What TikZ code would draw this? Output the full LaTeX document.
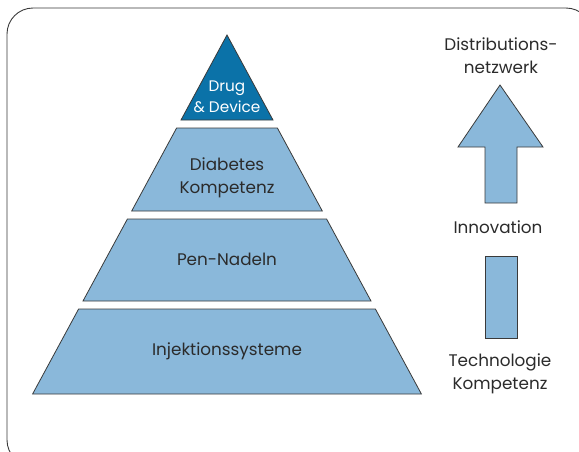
\documentclass[tikz,border=0pt]{standalone}
\usepackage{fontspec}
\setmainfont{Poppins}
\usepackage{tikz}
\definecolor{layerblue}{HTML}{8AB8DA}
\definecolor{topblue}{HTML}{0B72A8}
\definecolor{edgegray}{HTML}{3A3A3A}
\definecolor{textgray}{HTML}{2B2B2B}

\begin{document}
\begin{tikzpicture} [x=1pt,y=-1pt,
  layer/.style={fill=layerblue,draw=edgegray,line width=0.8pt},
  lbl/.style={font=\fontsize{16.8}{23}\selectfont,text=textgray,align=center,inner sep=0pt}]
\useasboundingbox (0,0) rectangle (579,451);
% frame
\draw [edgegray,line width=0.9pt,rounded corners=26pt] (7,8) rectangle (592,466);
% pyramid
\draw [fill=topblue,draw=edgegray,line width=0.8pt] (227,35) -- (273,120) -- (181,120) -- cycle;
\draw [layer] (176.6,128) -- (277.4,128) -- (322.3,211) -- (131.7,211) -- cycle;
\draw [layer] (127.4,219) -- (326.6,219) -- (371,301) -- (83,301) -- cycle;
\draw [layer] (78.6,309) -- (375.4,309) -- (421.4,394) -- (32.6,394) -- cycle;
\node [lbl,text=white,font=\fontsize{15.3}{21}\selectfont] (drug) at (227,97) {Drug\\\& Device};
\node [lbl] (diab) at (227,178) {Diabetes\\Kompetenz};
\node [lbl] (pen) at (227,259) {Pen-Nadeln};
\node [lbl] (inj) at (227,351) {Injektionssysteme};
% right column
\node [lbl] (netz) at (501,56) {Distributions-\\netzwerk};
\draw [layer] (500,85) -- (543,147) -- (517,147) -- (517,203) -- (485,203) -- (485,147) -- (458,147) -- cycle;
\node [lbl] (innov) at (498,227) {Innovation};
\draw [layer] (485,256) rectangle (517,338);
\node [lbl] (tech) at (500,374) {Technologie\\Kompetenz};
\end{tikzpicture}
\end{document}
